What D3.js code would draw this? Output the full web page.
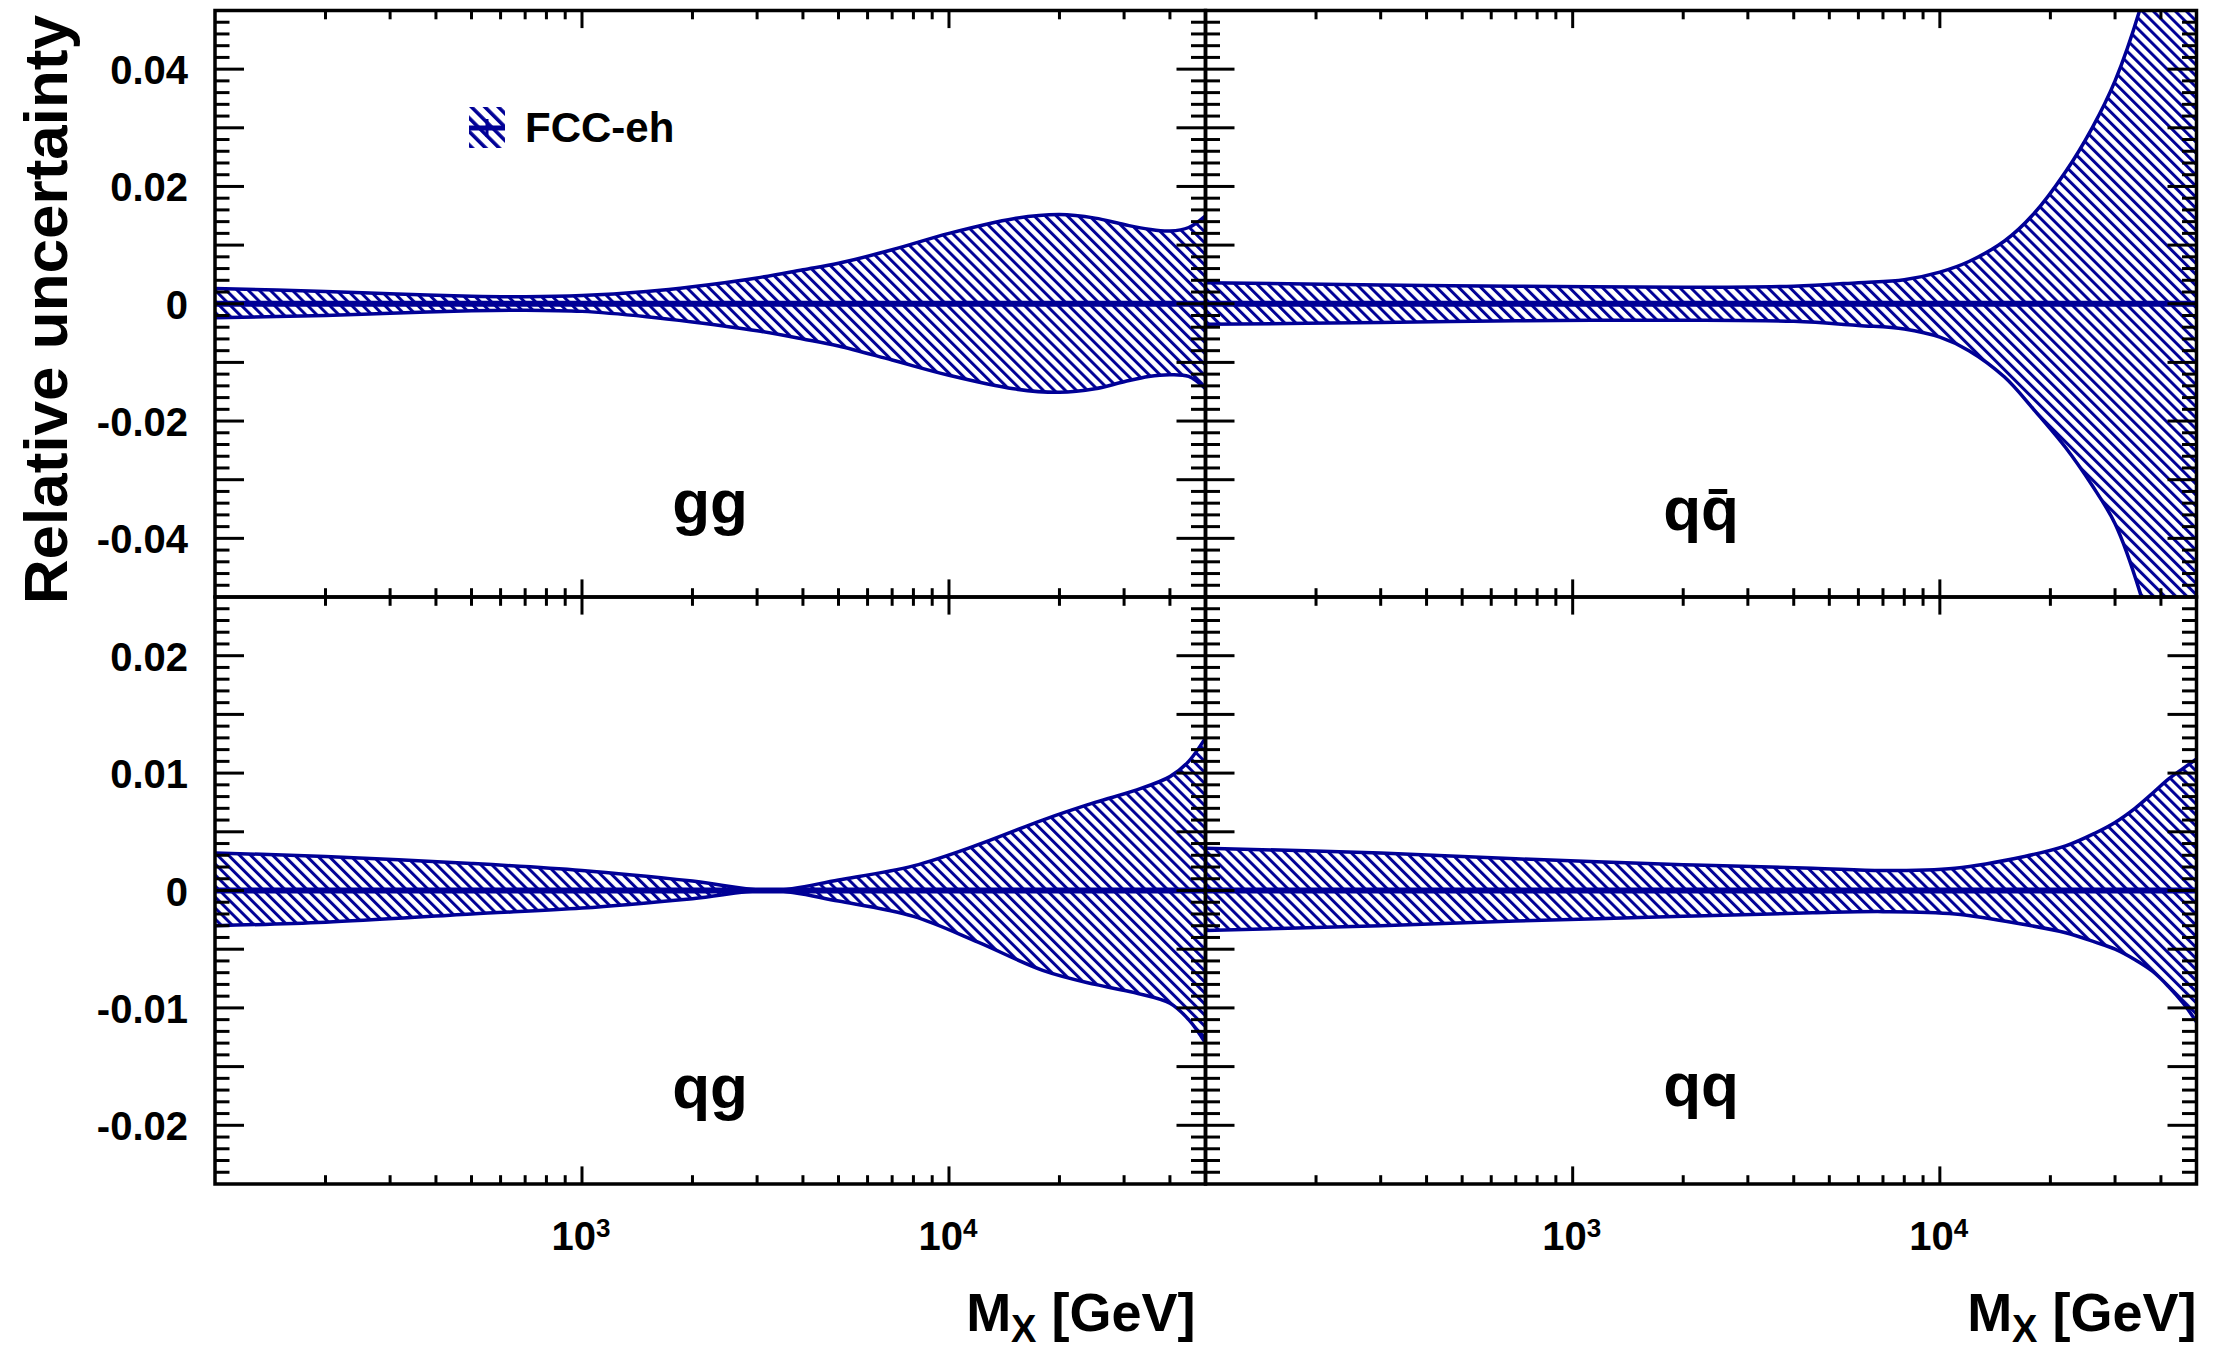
<!DOCTYPE html>
<html><head><meta charset="utf-8">
<script src="https://cdn.jsdelivr.net/npm/d3@7"></script>
<style>body{margin:0;background:#fff}svg{display:block}</style>
</head><body>
<svg id="c" width="2214" height="1351"></svg>
<script>
// ---------------- data ----------------
const ggMass = [100, 200, 300, 500, 700, 1000, 1500, 2000, 3000, 4000, 5000, 7000, 10000, 15000, 20000, 25000, 30000, 35000, 40000, 45000, 50000];
const ggUp   = [0.0026, 0.0021, 0.0017, 0.0013, 0.0012, 0.0014, 0.0021, 0.0029, 0.0044, 0.0058, 0.0069, 0.0092, 0.0120, 0.0145, 0.0152, 0.0146, 0.0135, 0.0127, 0.0124, 0.0130, 0.0150];
const ggLo   = [-0.0024, -0.0020, -0.0016, -0.0012, -0.0011, -0.0013, -0.0022, -0.0031, -0.0046, -0.0060, -0.0072, -0.0096, -0.0122, -0.0145, -0.0151, -0.0145, -0.0133, -0.0124, -0.0121, -0.0124, -0.0145];

const qqbarMass = [100, 300, 700, 2000, 4000, 6000, 8000, 10000, 12000, 15000, 18000, 22000, 26000, 30000, 35000, 40000, 50000];
const qqbarUp   = [0.0036, 0.0032, 0.0030, 0.0028, 0.0030, 0.0036, 0.0041, 0.0054, 0.0072, 0.0107, 0.0153, 0.0225, 0.0300, 0.0380, 0.0500, 0.0640, 0.0950];
const qqbarLo   = [-0.0035, -0.0032, -0.0029, -0.0028, -0.0030, -0.0037, -0.0043, -0.0057, -0.0080, -0.0125, -0.0180, -0.0245, -0.0310, -0.0375, -0.0490, -0.0630, -0.0930];

const qgMass = [100, 200, 500, 1000, 2000, 3300, 5000, 8000, 12000, 18000, 25000, 32000, 40000, 45000, 50000];
const qgUp   = [0.0032, 0.0029, 0.0023, 0.0017, 0.0008, 0.0000, 0.0009, 0.0021, 0.0039, 0.0060, 0.0075, 0.0085, 0.0097, 0.0110, 0.0130];
const qgLo   = [-0.0030, -0.0027, -0.0020, -0.0015, -0.0007, 0.0000, -0.0009, -0.0022, -0.0044, -0.0068, -0.0080, -0.0087, -0.0096, -0.0110, -0.0130];

const qqMass = [100, 300, 700, 2000, 4500, 7000, 11000, 17000, 22000, 26500, 30000, 34000, 38000, 42000, 46000, 50000];
const qqUp   = [0.0036, 0.0032, 0.0027, 0.0022, 0.0019, 0.0017, 0.0019, 0.0029, 0.0038, 0.0049, 0.0058, 0.0070, 0.0083, 0.0095, 0.0104, 0.0112];
const qqLo   = [-0.0034, -0.0030, -0.0026, -0.0022, -0.0019, -0.0018, -0.0020, -0.0029, -0.0036, -0.0044, -0.0050, -0.0059, -0.0069, -0.0082, -0.0096, -0.0112];

const xDomain = [100, 50000];
const yDomainTop = [-0.05, 0.05];
const yDomainBottom = [-0.025, 0.025];
const yLabelsTop = [-0.04, -0.02, 0, 0.02, 0.04];
const yLabelsBottom = [-0.02, -0.01, 0, 0.01, 0.02];
const xLabelExponents = [3, 4];
const panelNames = ["gg", "q\u0071\u0304", "qg", "qq"];
const legendLabel = "FCC-eh";
const yTitle = "Relative uncertainty";

// ---------------- layout ----------------
const L = 215, MX = 1205.5, R = 2196.5, T = 10.5, MY = 597, B = 1184;
const col = "#000096";
const FONT = "'Liberation Sans', Arial, Helvetica, sans-serif";

const svg = d3.select("#c");
const defs = svg.append("defs");
const pat = defs.append("pattern").attr("id", "hatch")
  .attr("patternUnits", "userSpaceOnUse").attr("width", 7.8).attr("height", 20)
  .attr("patternTransform", "rotate(-45)");
pat.append("rect").attr("x", 0).attr("y", 0).attr("width", 3).attr("height", 20).attr("fill", col);
const pat2 = defs.append("pattern").attr("id", "hatchL")
  .attr("patternUnits", "userSpaceOnUse").attr("width", 9.5).attr("height", 20)
  .attr("patternTransform", "translate(469,107) rotate(-45)");
pat2.append("rect").attr("x", 0).attr("y", 0).attr("width", 3.6).attr("height", 20).attr("fill", col);

const fmt = v => v === 0 ? "0" : String(+v.toFixed(3));

const panels = [
  {name: panelNames[0], x0: L, x1: MX, y0: T, y1: MY, yd: yDomainTop, mass: ggMass, up: ggUp, lo: ggLo, left: true, bottom: false, lab: yLabelsTop, lx: 710, ly: 523},
  {name: panelNames[1], x0: MX, x1: R, y0: T, y1: MY, yd: yDomainTop, mass: qqbarMass, up: qqbarUp, lo: qqbarLo, left: false, bottom: false, lab: null, lx: 1701, ly: 530},
  {name: panelNames[2], x0: L, x1: MX, y0: MY, y1: B, yd: yDomainBottom, mass: qgMass, up: qgUp, lo: qgLo, left: true, bottom: true, lab: yLabelsBottom, lx: 710, ly: 1108},
  {name: panelNames[3], x0: MX, x1: R, y0: MY, y1: B, yd: yDomainBottom, mass: qqMass, up: qqUp, lo: qqLo, left: false, bottom: true, lab: null, lx: 1701, ly: 1106}
];

panels.forEach((p, i) => {
  const xs = d3.scaleLog().domain(xDomain).range([p.x0, p.x1]);
  const ys = d3.scaleLinear().domain(p.yd).range([p.y1, p.y0]);
  const cid = "clip" + i;
  defs.append("clipPath").attr("id", cid).append("rect")
    .attr("x", p.x0).attr("y", p.y0).attr("width", p.x1 - p.x0).attr("height", p.y1 - p.y0);
  const data = p.mass.map((m, k) => ({m, up: p.up[k], lo: p.lo[k]}));
  const g = svg.append("g").attr("clip-path", `url(#${cid})`);
  const curve = d3.curveCatmullRom.alpha(0.5);
  g.append("path").datum(data)
    .attr("d", d3.area().x(d => xs(d.m)).y0(d => ys(d.lo)).y1(d => ys(d.up)).curve(curve))
    .attr("fill", "url(#hatch)");
  ["up", "lo"].forEach(key => {
    g.append("path").datum(data)
      .attr("d", d3.line().x(d => xs(d.m)).y(d => ys(d[key])).curve(curve))
      .attr("fill", "none").attr("stroke", col).attr("stroke-width", 3.5);
  });
  g.append("line").attr("x1", xs(xDomain[0])).attr("x2", xs(xDomain[1]))
    .attr("y1", ys(0)).attr("y2", ys(0)).attr("stroke", col).attr("stroke-width", 6);

  // ticks
  const ax = svg.append("g").attr("stroke", "#000").attr("stroke-width", 3);
  const step = (p.yd[1] - p.yd[0]) / 50; // minor
  const majLen = 29, minLen = 14.5;
  for (let k = 1; k < 50; k++) {
    const v = p.yd[0] + k * step;
    const y = ys(v);
    const len = (k % 5 === 0) ? majLen : minLen;
    ax.append("line").attr("x1", p.x0).attr("x2", p.x0 + len).attr("y1", y).attr("y2", y);
    ax.append("line").attr("x1", p.x1).attr("x2", p.x1 - len).attr("y1", y).attr("y2", y);
  }
  const xt = [];
  for (let e = 2; e <= 4; e++) for (let m = 1; m <= 9; m++) {
    const v = m * Math.pow(10, e);
    if (v > xDomain[0] && v < xDomain[1]) xt.push({v, major: m === 1});
  }
  xt.forEach(t => {
    const x = xs(t.v);
    const len = t.major ? 17.6 : 8.8;
    ax.append("line").attr("x1", x).attr("x2", x).attr("y1", p.y0).attr("y2", p.y0 + len);
    ax.append("line").attr("x1", x).attr("x2", x).attr("y1", p.y1).attr("y2", p.y1 - len);
  });
  svg.append("rect").attr("x", p.x0).attr("y", p.y0).attr("width", p.x1 - p.x0).attr("height", p.y1 - p.y0)
    .attr("fill", "none").attr("stroke", "#000").attr("stroke-width", 3.5);

  if (p.lab) {
    p.lab.forEach(v => {
      svg.append("text").attr("x", 188).attr("y", ys(v) + 15)
        .attr("text-anchor", "end").attr("font-family", FONT).attr("font-weight", "bold")
        .attr("font-size", 40).text(fmt(v));
    });
  }
  if (p.bottom) {
    xLabelExponents.forEach(e => {
      const t = svg.append("text").attr("x", xs(Math.pow(10, e)) - 1).attr("y", 1250)
        .attr("text-anchor", "middle").attr("font-family", FONT).attr("font-weight", "bold").attr("font-size", 40);
      t.append("tspan").text("10");
      t.append("tspan").attr("font-size", 26).attr("dy", -13).text(String(e));
    });
    const tt = svg.append("text").attr("x", p.x1 - (p.left ? 10 : 0)).attr("y", 1331)
      .attr("text-anchor", "end").attr("font-family", FONT).attr("font-weight", "bold").attr("font-size", 54);
    tt.append("tspan").text("M");
    tt.append("tspan").attr("font-size", 38).attr("dy", 11).text("X");
    tt.append("tspan").attr("dy", -11).text(" [GeV]");
  }
  svg.append("text").attr("x", p.lx).attr("y", p.ly).attr("text-anchor", "middle")
    .attr("font-family", FONT).attr("font-weight", "bold").attr("font-size", 62).text(p.name);
});

svg.append("text").attr("transform", "translate(67,15) rotate(-90)")
  .attr("text-anchor", "end").attr("font-family", FONT).attr("font-weight", "bold")
  .attr("font-size", 62).text(yTitle);

const lg = svg.append("g");
lg.append("rect").attr("x", 469).attr("y", 107).attr("width", 36).attr("height", 41).attr("fill", "url(#hatchL)");
lg.append("line").attr("x1", 469).attr("x2", 505).attr("y1", 128).attr("y2", 128).attr("stroke", col).attr("stroke-width", 5);
lg.append("line").attr("x1", 487).attr("x2", 487).attr("y1", 119).attr("y2", 137).attr("stroke", col).attr("stroke-width", 3);
lg.append("text").attr("x", 525).attr("y", 142).attr("font-family", FONT).attr("font-weight", "bold")
  .attr("font-size", 42).text(legendLabel);
</script>
</body></html>
